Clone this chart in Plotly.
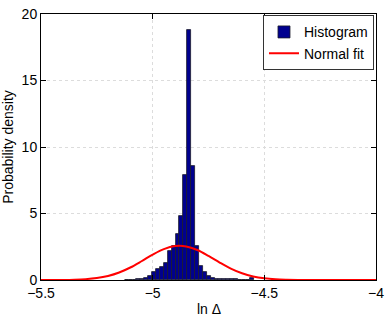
import plotly.graph_objects as go

# Histogram bins (centers) and density values
bin_centers = [-5.1165, -5.099, -5.0815, -5.064, -5.0465, -5.029, -5.0115, -4.994,
               -4.9765, -4.959, -4.9415, -4.924, -4.9065, -4.889, -4.8715, -4.854,
               -4.8365, -4.819, -4.8015, -4.784, -4.7665, -4.749, -4.7315, -4.714,
               -4.6965, -4.679, -4.6615, -4.644, -4.6265, -4.609, -4.5915, -4.574,
               -4.5565]
bin_density = [0.01, 0.02, 0.03, 0.04, 0.06, 0.12, 0.31, 0.62,
               0.80, 1.00, 1.30, 2.15, 2.52, 3.47, 4.78, 7.86,
               18.8, 8.6, 2.58, 1.05, 0.60, 0.32, 0.17, 0.08,
               0.07, 0.06, 0.06, 0.05, 0.04, 0.03, 0.02, 0.03,
               0.15]
bin_width = 0.0175

# Normal fit curve
fit_x = [-5.5, -5.45, -5.4, -5.35, -5.3, -5.25, -5.2, -5.15, -5.1, -5.05, -5.0,
         -4.95, -4.9, -4.85, -4.8, -4.75, -4.7, -4.65, -4.6, -4.55, -4.5, -4.45,
         -4.4, -4.35, -4.3, -4.25, -4.2, -4.15, -4.1, -4.05, -4.0]
fit_y = [0.001, 0.003, 0.009, 0.026, 0.065, 0.149, 0.305, 0.564, 0.94, 1.41, 1.907,
         2.324, 2.553, 2.526, 2.253, 1.811, 1.312, 0.856, 0.503, 0.266, 0.128, 0.055,
         0.021, 0.007, 0.002, 0.001, 0.0, 0.0, 0.0, 0.0, 0.0]

x_ticks = [-5.5, -5, -4.5, -4]
x_tick_labels = ["\u22125.5", "\u22125", "\u22124.5", "\u22124"]
y_ticks = [0, 5, 10, 15, 20]

font = "Liberation Sans, Arial, Helvetica, sans-serif"

fig = go.Figure()
fig.add_trace(go.Bar(
    x=bin_centers, y=bin_density, width=[bin_width] * len(bin_centers),
    marker=dict(color="#00008F", line=dict(color="#1a1a2a", width=0.8)),
    name="Histogram",
))
fig.add_trace(go.Scatter(
    x=fit_x, y=fit_y, mode="lines", line=dict(color="#FF0000", width=2, shape="spline"),
    name="Normal fit",
))

axis_common = dict(
    showline=True, linecolor="black", linewidth=1, mirror="ticks",
    ticks="inside", ticklen=5, tickcolor="black",
    showgrid=True, gridcolor="#dcdcdc", griddash="dot", gridwidth=1,
    zeroline=False, tickfont=dict(size=14, color="black", family=font),
    ticklabeloverflow="allow",
)

fig.update_layout(
    width=390, height=317,
    margin=dict(l=41, r=6, t=11, b=37),
    paper_bgcolor="white", plot_bgcolor="white",
    font=dict(family=font, size=14, color="black"),
    bargap=0,
    showlegend=True,
    legend=dict(
        x=0.994, y=0.995, xanchor="right", yanchor="top",
        bgcolor="white", bordercolor="#333333", borderwidth=1,
        font=dict(size=14, family=font), tracegroupgap=0,
    ),
    xaxis=dict(range=[-5.5, -4], tickvals=x_ticks, ticktext=x_tick_labels,
               **axis_common),
    yaxis=dict(range=[0, 20], tickvals=y_ticks,
               title=dict(text="Probability density", font=dict(size=14), standoff=6),
               **axis_common),
    annotations=[dict(text="ln \u0394", x=0.5, y=-0.11, xref="paper", yref="paper",
                      xanchor="center", yanchor="middle", showarrow=False,
                      font=dict(size=14, family=font))],
)

fig.write_html("out.html", config={"displayModeBar": False},
               post_script="document.body.style.margin='0';")
